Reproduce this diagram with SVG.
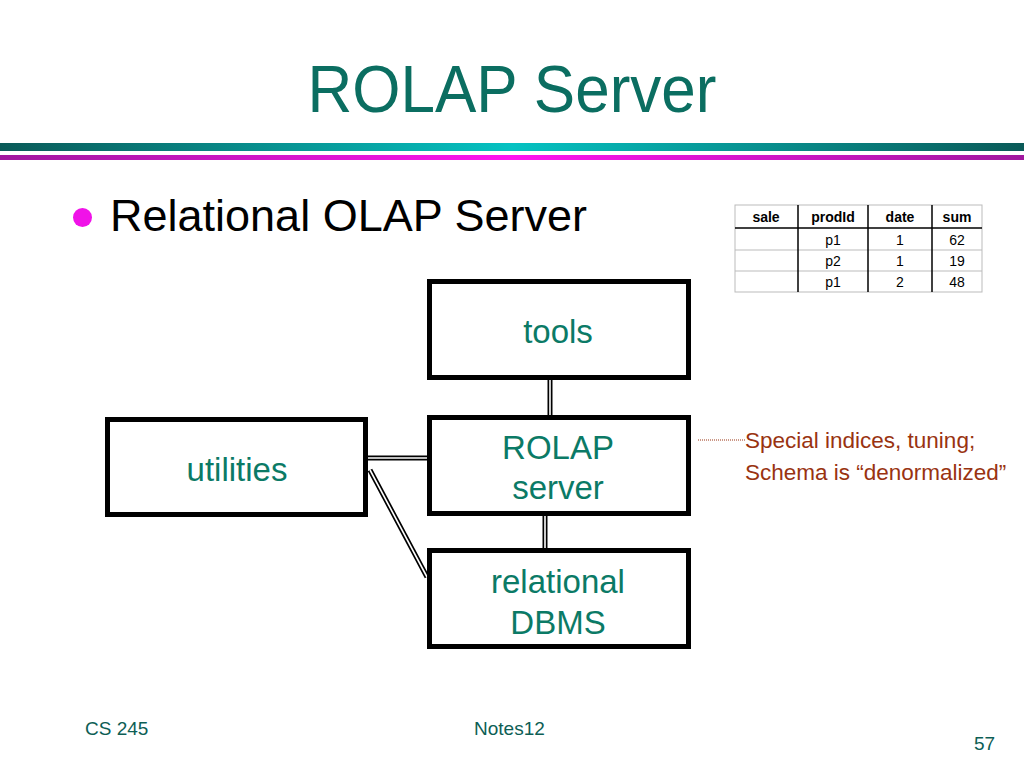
<svg xmlns="http://www.w3.org/2000/svg" width="1024" height="768" viewBox="0 0 1024 768">
<defs>
<linearGradient id="tealBar" x1="0" y1="0" x2="1" y2="0">
<stop offset="0" stop-color="#0a5a58"/><stop offset="0.5" stop-color="#05c2c2"/><stop offset="1" stop-color="#0a5a58"/>
</linearGradient>
<linearGradient id="magBar" x1="0" y1="0" x2="1" y2="0">
<stop offset="0" stop-color="#a0189e"/><stop offset="0.5" stop-color="#ff14f0"/><stop offset="1" stop-color="#a0189e"/>
</linearGradient>
<style>
.box{fill:#ffffff;stroke:#000000;stroke-width:5}
.lbl{font-family:"Liberation Sans",Arial,sans-serif;font-size:33px;fill:#0b7a66;text-anchor:middle}
.dbl-o{stroke:#000000;stroke-width:5;fill:none}
.dbl-i{stroke:#ffffff;stroke-width:1.6;fill:none}
.th{font-family:"Liberation Sans",Arial,sans-serif;font-size:14px;font-weight:bold;fill:#000;text-anchor:middle}
.td{font-family:"Liberation Sans",Arial,sans-serif;font-size:14px;fill:#000;text-anchor:middle}
.foot{font-family:"Liberation Sans",Arial,sans-serif;font-size:19px;fill:#0d5e55}
.note{font-family:"Liberation Sans",Arial,sans-serif;font-size:22.5px;fill:#993311}
</style>
</defs>
<rect width="1024" height="768" fill="#ffffff"/>
<text x="512" y="112" font-family="Liberation Sans,Arial,sans-serif" font-size="66" fill="#0b6e61" text-anchor="middle" textLength="409" lengthAdjust="spacingAndGlyphs">ROLAP Server</text>
<rect x="0" y="143" width="1024" height="8" fill="url(#tealBar)"/>
<rect x="0" y="155" width="1024" height="5" fill="url(#magBar)"/>
<circle cx="82.5" cy="217.5" r="9.5" fill="#f012e8"/>
<text x="110" y="231" font-family="Liberation Sans,Arial,sans-serif" font-size="45" fill="#000">Relational OLAP Server</text>
<g id="table">
<rect x="735" y="205" width="247" height="87" fill="#fff" stroke="#bbbbbb" stroke-width="1"/>
<line x1="735" y1="250" x2="982" y2="250" stroke="#bbbbbb" stroke-width="1"/>
<line x1="735" y1="271" x2="982" y2="271" stroke="#bbbbbb" stroke-width="1"/>
<line x1="735" y1="228" x2="982" y2="228" stroke="#000" stroke-width="1.5"/>
<line x1="798" y1="205" x2="798" y2="292" stroke="#000" stroke-width="1.5"/>
<line x1="868" y1="205" x2="868" y2="292" stroke="#000" stroke-width="1.5"/>
<line x1="932" y1="205" x2="932" y2="292" stroke="#000" stroke-width="1.5"/>
<text class="th" x="766" y="222">sale</text>
<text class="th" x="833" y="222">prodId</text>
<text class="th" x="900" y="222">date</text>
<text class="th" x="957" y="222">sum</text>
<text class="td" x="833" y="245">p1</text><text class="td" x="900" y="245">1</text><text class="td" x="957" y="245">62</text>
<text class="td" x="833" y="266">p2</text><text class="td" x="900" y="266">1</text><text class="td" x="957" y="266">19</text>
<text class="td" x="833" y="287">p1</text><text class="td" x="900" y="287">2</text><text class="td" x="957" y="287">48</text>
</g>
<g id="connectors">
<line class="dbl-o" x1="550" y1="379" x2="550" y2="416"/><line class="dbl-i" x1="550" y1="379" x2="550" y2="416"/>
<line class="dbl-o" x1="545" y1="515" x2="545" y2="549"/><line class="dbl-i" x1="545" y1="515" x2="545" y2="549"/>
<line class="dbl-o" x1="367" y1="458" x2="427" y2="458"/><line class="dbl-i" x1="367" y1="458" x2="427" y2="458"/>
<line class="dbl-o" x1="370" y1="470" x2="427" y2="577"/><line class="dbl-i" x1="370" y1="470" x2="427" y2="577"/>
<line x1="698" y1="440" x2="745" y2="440" stroke="#993311" stroke-width="1" stroke-dasharray="1,1"/>
</g>
<g id="tools">
<rect class="box" x="429.5" y="281.5" width="259" height="96"/>
<text class="lbl" x="558" y="343">tools</text>
</g>
<g id="rolap">
<rect class="box" x="429.5" y="417.5" width="259" height="96"/>
<text class="lbl" x="558" y="459">ROLAP</text>
<text class="lbl" x="558" y="499">server</text>
</g>
<g id="dbms">
<rect class="box" x="429.5" y="550.5" width="259" height="96"/>
<text class="lbl" x="558" y="593">relational</text>
<text class="lbl" x="558" y="634">DBMS</text>
</g>
<g id="utilities">
<rect class="box" x="107.5" y="419.5" width="258" height="95"/>
<text class="lbl" x="237" y="481">utilities</text>
</g>
<text class="note" x="745" y="448">Special indices, tuning;</text>
<text class="note" x="745" y="480">Schema is “denormalized”</text>
<text class="foot" x="85" y="735">CS 245</text>
<text class="foot" x="474" y="735">Notes12</text>
<text class="foot" x="974" y="750">57</text>
</svg>
